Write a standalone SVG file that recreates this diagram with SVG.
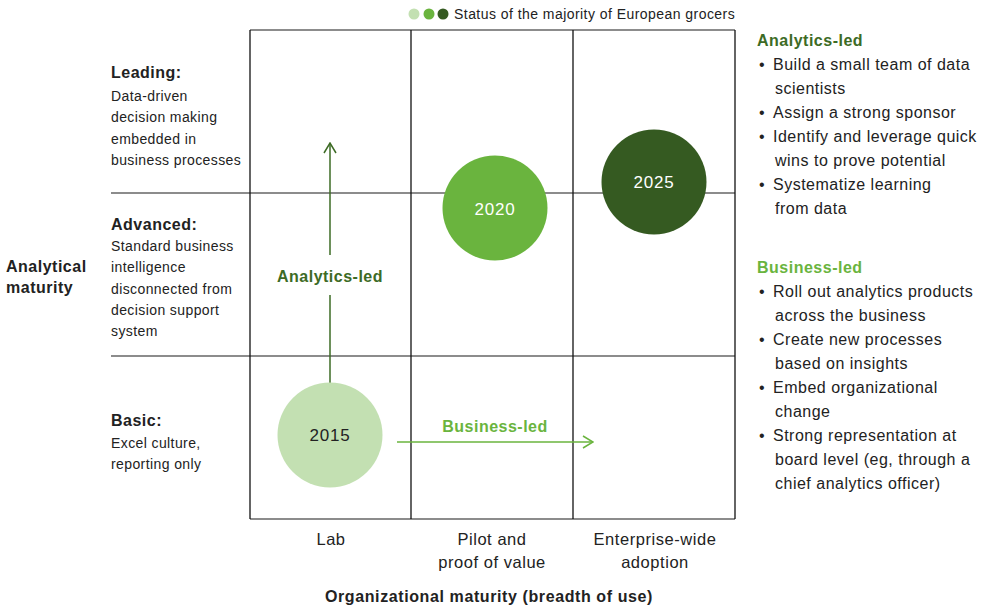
<svg xmlns="http://www.w3.org/2000/svg" width="989" height="606" viewBox="0 0 989 606">
<style>
text{font-family:"Liberation Sans",Arial,sans-serif;fill:#222}
.b{font-weight:bold}
.s{font-size:14px;letter-spacing:0.4px}
.m{font-size:16px;letter-spacing:0.5px}
.lg{font-size:14px;letter-spacing:0.45px}
.ax{font-size:16px;letter-spacing:0.6px}
.cl{font-size:16.5px;letter-spacing:0.55px;text-anchor:middle}
.grid{stroke:#111;stroke-width:1.3;fill:none}
.hl{stroke:#666;stroke-width:1.6;fill:none}
.yr{font-size:17px;letter-spacing:0.8px;text-anchor:middle}
.c{text-anchor:middle}
</style>
<defs>
<marker id="chev" viewBox="0 0 12 14" refX="11" refY="7" markerWidth="12" markerHeight="14" markerUnits="userSpaceOnUse" orient="auto">
<path d="M1,1 L11,7 L1,13" fill="none" stroke="context-stroke" stroke-width="1.5"/>
</marker>
</defs>
<rect width="989" height="606" fill="#fff"/>
<g id="legend">
<circle cx="414" cy="14" r="5.5" fill="#c3e0b2"/>
<circle cx="429" cy="14" r="5.5" fill="#6ab43e"/>
<circle cx="443" cy="14" r="5.5" fill="#355a21"/>
<text x="454" y="19" class="lg">Status of the majority of European grocers</text>
</g>
<g id="grid">
<line x1="250" y1="30" x2="735" y2="30" class="hl"/>
<line x1="111" y1="193" x2="735" y2="193" class="hl"/>
<line x1="111" y1="356" x2="735" y2="356" class="hl"/>
<line x1="250" y1="519" x2="735" y2="519" class="hl"/>
<line x1="250" y1="30" x2="250" y2="519" class="grid"/>
<line x1="411" y1="30" x2="411" y2="519" class="grid"/>
<line x1="573" y1="30" x2="573" y2="519" class="grid"/>
<line x1="735" y1="30" x2="735" y2="519" class="grid"/>
</g>
<g id="row-labels">
<text x="6" y="272" class="m b">Analytical</text>
<text x="6" y="293" class="m b">maturity</text>
<text x="111" y="78" class="m b">Leading:</text>
<text x="111" y="101" class="s">Data-driven</text>
<text x="111" y="122" class="s">decision making</text>
<text x="111" y="144" class="s">embedded in</text>
<text x="111" y="165" class="s">business processes</text>
<text x="111" y="230" class="m b">Advanced:</text>
<text x="111" y="251" class="s">Standard business</text>
<text x="111" y="272" class="s">intelligence</text>
<text x="111" y="294" class="s">disconnected from</text>
<text x="111" y="315" class="s">decision support</text>
<text x="111" y="336" class="s">system</text>
<text x="111" y="426" class="m b">Basic:</text>
<text x="111" y="448" class="s">Excel culture,</text>
<text x="111" y="469" class="s">reporting only</text>
</g>
<g id="col-labels">
<text x="331" y="545" class="cl">Lab</text>
<text x="492" y="545" class="cl">Pilot and</text>
<text x="492" y="568" class="cl">proof of value</text>
<text x="655" y="545" class="cl">Enterprise-wide</text>
<text x="655" y="568" class="cl">adoption</text>
<text x="489" y="602" class="ax b c">Organizational maturity (breadth of use)</text>
</g>
<g id="connectors">
<line x1="330" y1="383" x2="330" y2="295" stroke="#3d6b25" stroke-width="1.5"/>
<line x1="330" y1="255" x2="330" y2="143" stroke="#3d6b25" stroke-width="1.5" marker-end="url(#chev)"/>
<text x="330" y="282" class="m b c" style="fill:#3d6b25">Analytics-led</text>
<line x1="397" y1="442" x2="593" y2="442" stroke="#6ab43e" stroke-width="1.5" marker-end="url(#chev)"/>
<text x="495" y="432" class="m b c" style="fill:#6ab43e">Business-led</text>
</g>
<g id="node-2015">
<circle cx="330" cy="435" r="52.5" fill="#c3e0b2"/>
<text x="330" y="441" class="yr">2015</text>
</g>
<g id="node-2020">
<circle cx="495" cy="208" r="52.5" fill="#6ab43e"/>
<text x="495" y="215" class="yr" style="fill:#fff">2020</text>
</g>
<g id="node-2025">
<circle cx="654" cy="182" r="52.5" fill="#355a21"/>
<text x="654" y="188" class="yr" style="fill:#fff">2025</text>
</g>
<g id="analytics-list">
<text x="757" y="46" class="m b" style="fill:#3d6b25">Analytics-led</text>
<text x="759" y="70" class="m">•</text><text x="773" y="70" class="m">Build a small team of data</text>
<text x="775" y="94" class="m">scientists</text>
<text x="759" y="118" class="m">•</text><text x="773" y="118" class="m">Assign a strong sponsor</text>
<text x="759" y="142" class="m">•</text><text x="773" y="142" class="m">Identify and leverage quick</text>
<text x="775" y="166" class="m">wins to prove potential</text>
<text x="759" y="190" class="m">•</text><text x="773" y="190" class="m">Systematize learning</text>
<text x="775" y="214" class="m">from data</text>
</g>
<g id="business-list">
<text x="757" y="273" class="m b" style="fill:#6ab43e">Business-led</text>
<text x="759" y="297" class="m">•</text><text x="773" y="297" class="m">Roll out analytics products</text>
<text x="775" y="321" class="m">across the business</text>
<text x="759" y="345" class="m">•</text><text x="773" y="345" class="m">Create new processes</text>
<text x="775" y="369" class="m">based on insights</text>
<text x="759" y="393" class="m">•</text><text x="773" y="393" class="m">Embed organizational</text>
<text x="775" y="417" class="m">change</text>
<text x="759" y="441" class="m">•</text><text x="773" y="441" class="m">Strong representation at</text>
<text x="775" y="465" class="m">board level (eg, through a</text>
<text x="775" y="489" class="m">chief analytics officer)</text>
</g>
</svg>
